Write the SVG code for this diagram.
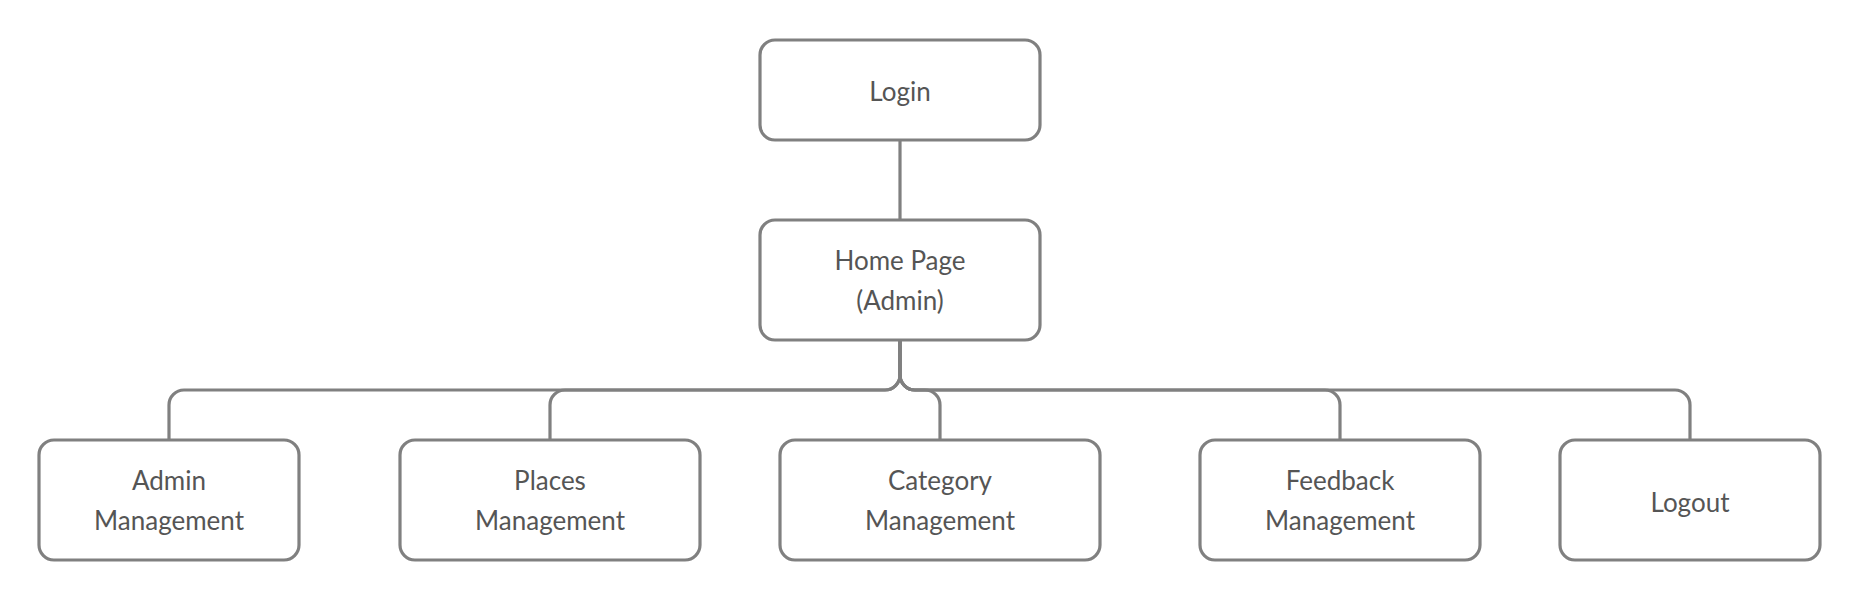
<svg xmlns="http://www.w3.org/2000/svg" width="1860" height="600" viewBox="0 0 1860 600">
<style>
.box{fill:#ffffff;stroke:#808080;stroke-width:3.2}
.lbl{font-family:Lato,"Liberation Sans",sans-serif;font-size:26px;fill:#555555;text-anchor:middle}
.conn{fill:none;stroke:#808080;stroke-width:3.2}
</style>
<rect width="1860" height="600" fill="#ffffff"/>
<g id="connectors">
<path class="conn" d="M900,140 V220"/>
<path class="conn" d="M900,340 V375 A15,15 0 0 1 885,390 H184 A15,15 0 0 0 169,405 V440"/>
<path class="conn" d="M900,340 V375 A15,15 0 0 1 885,390 H565 A15,15 0 0 0 550,405 V440"/>
<path class="conn" d="M900,340 V375 A15,15 0 0 0 915,390 H925 A15,15 0 0 1 940,405 V440"/>
<path class="conn" d="M900,340 V375 A15,15 0 0 0 915,390 H1325 A15,15 0 0 1 1340,405 V440"/>
<path class="conn" d="M900,340 V375 A15,15 0 0 0 915,390 H1675 A15,15 0 0 1 1690,405 V440"/>
</g>
<g id="login">
<rect class="box" x="760" y="40" width="280" height="100" rx="15"/>
<text class="lbl" x="900" y="101">Login</text>
</g>
<g id="home">
<rect class="box" x="760" y="220" width="280" height="120" rx="15"/>
<text class="lbl" x="900" y="270">Home Page</text>
<text class="lbl" x="900" y="310">(Admin)</text>
</g>
<g id="admin-management">
<rect class="box" x="39" y="440" width="260" height="120" rx="15"/>
<text class="lbl" x="169" y="490">Admin</text>
<text class="lbl" x="169" y="530">Management</text>
</g>
<g id="places-management">
<rect class="box" x="400" y="440" width="300" height="120" rx="15"/>
<text class="lbl" x="550" y="490">Places</text>
<text class="lbl" x="550" y="530">Management</text>
</g>
<g id="category-management">
<rect class="box" x="780" y="440" width="320" height="120" rx="15"/>
<text class="lbl" x="940" y="490">Category</text>
<text class="lbl" x="940" y="530">Management</text>
</g>
<g id="feedback-management">
<rect class="box" x="1200" y="440" width="280" height="120" rx="15"/>
<text class="lbl" x="1340" y="490">Feedback</text>
<text class="lbl" x="1340" y="530">Management</text>
</g>
<g id="logout">
<rect class="box" x="1560" y="440" width="260" height="120" rx="15"/>
<text class="lbl" x="1690" y="512">Logout</text>
</g>
</svg>
